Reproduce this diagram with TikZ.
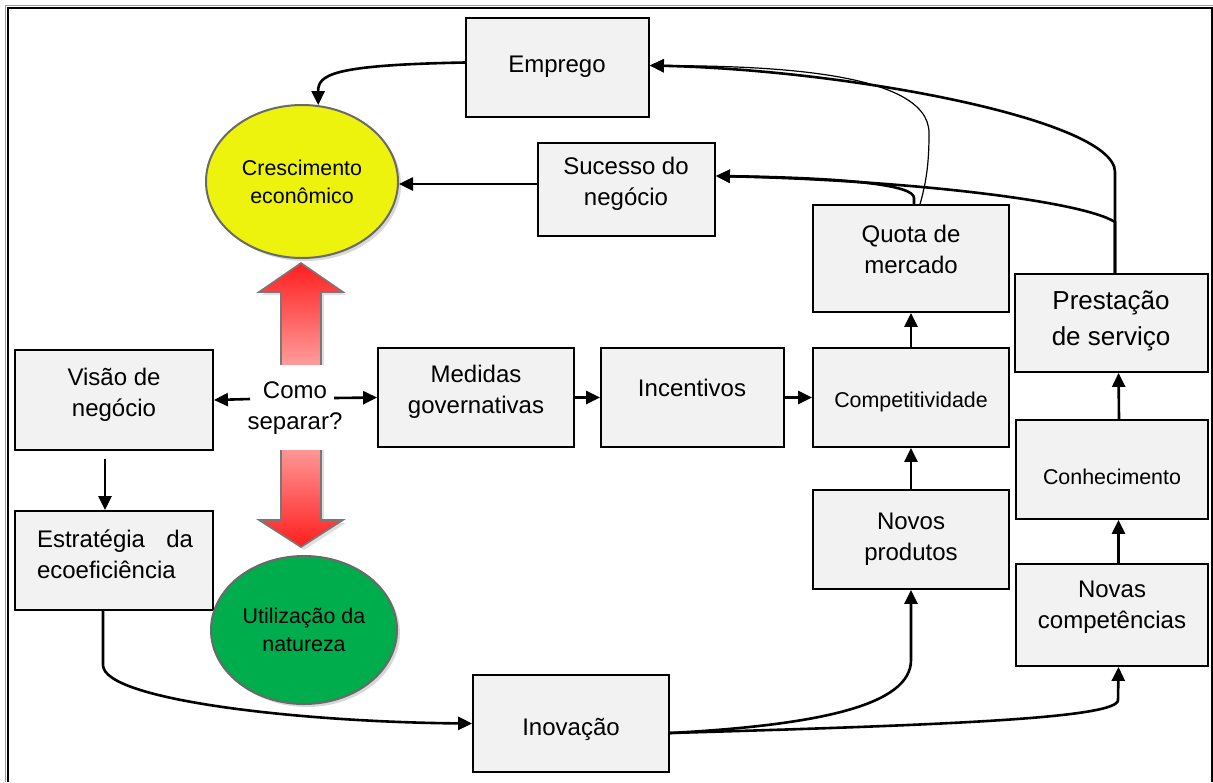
\documentclass[tikz,border=0pt]{standalone}
\usepackage{fontspec}
\setmainfont{Liberation Sans}
\usetikzlibrary{arrows.meta,shapes.geometric,shadows}

\definecolor{boxfill}{RGB}{242,242,242}
\definecolor{growth}{RGB}{238,243,14}
\definecolor{nature}{RGB}{0,173,76}
\definecolor{rimgray}{RGB}{105,105,105}
\definecolor{arrowred}{RGB}{255,30,30}
\definecolor{arrowpink}{RGB}{255,205,205}

\begin{document}
\begin{tikzpicture}[x=0.5pt,y=-0.5pt,
  box/.style={draw=black, line width=0.9pt, fill=boxfill, inner sep=0pt},
  lbl/.style={align=center, font=\fontsize{12}{15.5}\selectfont, inner sep=0pt},
  smalllbl/.style={align=center, font=\fontsize{10.7}{14}\selectfont, inner sep=0pt},
  arr/.style={line width=1.3pt, -{Triangle[length=7pt,width=6.5pt]}},
  thinarr/.style={line width=0.6pt, -{Triangle[length=7pt,width=6.5pt]}},
  blob/.style={ellipse, draw=rimgray, line width=1pt, inner sep=0pt, align=center,
    font=\fontsize{10.7}{14}\selectfont,
    drop shadow={shadow xshift=1.5pt, shadow yshift=-1.5pt, fill=black!30}},
]
\useasboundingbox (0,0) rectangle (1213,782);

% page frame
\draw[black!40, line width=0.6pt] (5.6,782) -- (5.6,5.6) -- (1213,5.6);
\draw[line width=1pt] (7.6,782) -- (7.6,7.6) -- (1211.5,7.6) -- (1211.5,782);

% boxes
\node[box, minimum width=91.5pt, minimum height=49.5pt] (emp) at (557.5,67.5) {};
\node[box, minimum width=88.5pt, minimum height=46.5pt] (suc) at (626.5,189.5) {};
\node[box, minimum width=98pt,   minimum height=53.5pt] (quo) at (911,258.5) {};
\node[box, minimum width=96.5pt, minimum height=49pt]   (pre) at (1111.5,323) {};
\node[box, minimum width=99pt,   minimum height=50pt]   (vis) at (114,400) {};
\node[box, minimum width=98pt,   minimum height=49.5pt] (med) at (476,397.5) {};
\node[box, minimum width=91.5pt, minimum height=49.5pt] (inc) at (692.5,397.5) {};
\node[box, minimum width=98pt,   minimum height=49.5pt] (com) at (911,397.5) {};
\node[box, minimum width=96pt,   minimum height=49.5pt] (con) at (1112,469.5) {};
\node[box, minimum width=98pt,   minimum height=49.5pt] (nov) at (911,539.5) {};
\node[box, minimum width=96pt,   minimum height=51pt]   (nco) at (1112,615) {};
\node[box, minimum width=99pt,   minimum height=49.5pt] (est) at (114,560.5) {};
\node[box, minimum width=98pt,   minimum height=48.5pt] (ino) at (571,723.5) {};

% box texts
\node[lbl] (emp-t) at (557,67) {Emprego};
\node[lbl] (suc-t) at (626,184) {Sucesso do\\negócio};
\node[lbl] (quo-t) at (911,249) {Quota de\\mercado};
\node[lbl, font=\fontsize{13}{18}\selectfont] (pre-t) at (1111,321) {Prestação\\de serviço};
\node[lbl] (vis-t) at (114,395) {Visão de\\negócio};
\node[lbl] (med-t) at (476,392) {Medidas\\governativas};
\node[lbl] (inc-t) at (692,388) {Incentivos};
\node[smalllbl] (com-t) at (911,402) {Competitividade};
\node[smalllbl] (con-t) at (1112,477) {Conhecimento};
\node[lbl] (nov-t) at (911,539) {Novos\\produtos};
\node[lbl] (nco-t) at (1112,607) {Novas\\competências};
\node[lbl, align=left, text width=78pt] (est-t) at (115,554) {Estratégia\hfill da\\ecoeficiência};
\node[lbl] (ino-t) at (571,729) {Inovação};

% the two spheres
\node[blob, fill=growth, minimum width=96pt, minimum height=76.5pt] (cres) at (302,181.5) {Crescimento\\econômico};
\node[blob, fill=nature, minimum width=93pt, minimum height=74pt] (nat) at (304,630) {Utilização da\\natureza};

% red double arrow between the spheres
\draw[draw=rimgray!90, line width=0.8pt, top color=arrowred, bottom color=arrowred,
      middle color=arrowpink,
      drop shadow={shadow xshift=1.5pt, shadow yshift=-1.5pt, fill=black!25}]
  (301,263) -- (343,292) -- (321,292) -- (321,520) -- (343,520) -- (301,547)
  -- (259,520) -- (281,520) -- (281,292) -- (259,292) -- cycle;
\node[fill=white, inner sep=0pt, minimum width=26pt, minimum height=42.5pt] (gap) at (301,407.5) {};
\node[lbl] (sep) at (295,408) {Como\\separar?};
\coordinate (sepL) at (250,399);
\coordinate (sepR) at (334,398);

% connectors
\draw[arr] ([yshift=2.5pt]emp.west) .. controls (330,65) and (318,75) .. (cres.78);
\draw[arr] ([yshift=2.75pt]suc.west) -- ([yshift=-1.25pt]cres.east);

\draw[thinarr] ([xshift=4.5pt]quo.north) .. controls (927,180) and (929,160) .. (929,133)
  .. controls (929,70) and (760,66) .. ([yshift=1pt]emp.east);
\draw[arr] ([xshift=1.5pt]quo.north) -- (914,198) .. controls (914,185) and (850,178) .. ([yshift=6.75pt]suc.east);
\draw[arr] ([xshift=1.75pt]pre.north) -- (1115,172) .. controls (1115,120) and (850,70) .. ([yshift=1pt]emp.east);
\draw[arr] ([xshift=1.75pt]pre.north) -- (1115,222) .. controls (1080,200) and (900,180) .. ([yshift=6.75pt]suc.east);

\draw[arr] (sepL) -- (vis.east);
\draw[arr] (sepR) -- (med.west);
\draw[arr] (med) -- (inc);
\draw[arr] (inc) -- (com);
\draw[arr] (com) -- (quo);
\draw[arr] (nov) -- (com);
\draw[arr] ([xshift=3.5pt]con.north) -- ([xshift=3.5pt]pre.south);
\draw[arr] ([xshift=3.25pt]nco.north) -- ([xshift=3.25pt]con.south);
\draw[arr] ([xshift=-4.5pt,yshift=-4pt]vis.south) -- ([xshift=-4.5pt]est.north);

\draw[arr] ([xshift=-5.5pt]est.south) -- (103,665) .. controls (103,700) and (300,722) .. (ino.west);
\draw[arr] ([yshift=-4.75pt]ino.east) .. controls (820,725) and (911,705) .. (911,660) -- (nov.south);
\draw[arr] ([yshift=-4.75pt]ino.east) .. controls (950,725) and (1118,718) .. (1118,700) -- ([xshift=3.25pt]nco.south);
\end{tikzpicture}
\end{document}
